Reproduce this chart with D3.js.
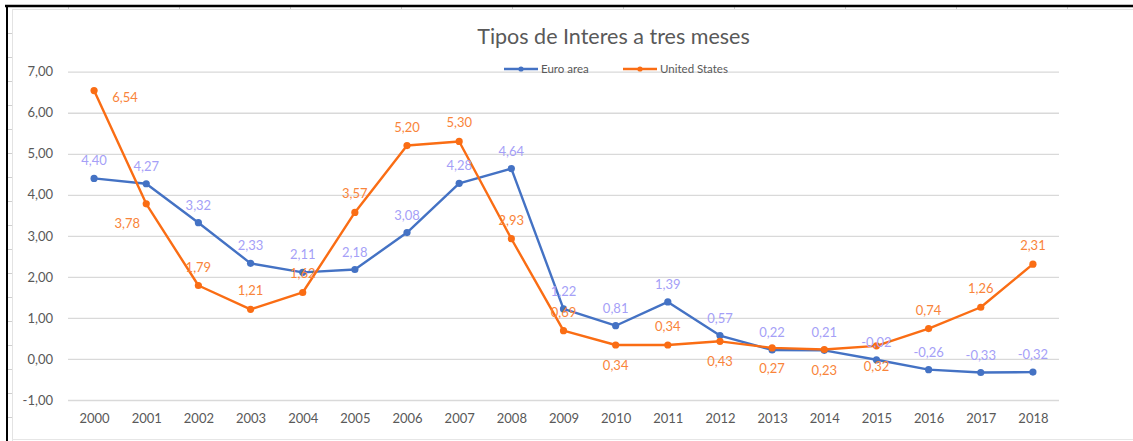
<!DOCTYPE html>
<html>
<head>
<meta charset="utf-8">
<script src="https://cdn.jsdelivr.net/npm/d3@7/dist/d3.min.js"></script>
<style>
  html, body { margin: 0; padding: 0; background: #fff; }
  svg { display: block; font-family: Lato, "Open Sans", sans-serif; }
</style>
</head>
<body>
<svg id="chart" width="1133" height="441"></svg>
<script>
const years = ["2000","2001","2002","2003","2004","2005","2006","2007","2008","2009",
               "2010","2011","2012","2013","2014","2015","2016","2017","2018"];
const euroArea = [4.40, 4.27, 3.32, 2.33, 2.11, 2.18, 3.08, 4.28, 4.64, 1.22,
                  0.81, 1.39, 0.57, 0.22, 0.21, -0.02, -0.26, -0.33, -0.32];
const unitedStates = [6.54, 3.78, 1.79, 1.21, 1.62, 3.57, 5.20, 5.30, 2.93, 0.69,
                      0.34, 0.34, 0.43, 0.27, 0.23, 0.32, 0.74, 1.26, 2.31];
const yTicks = [-1, 0, 1, 2, 3, 4, 5, 6, 7];
const seriesNames = ["Euro area", "United States"];
const titleText = "Tipos de Interes a tres meses";
// label placement for the US series (a = above, b = below, r = right, l = left-below)
const usLabelSide = ["r","l","a","a","a","a","a","a","a","a",
                     "b","a","b","b","b","b","a","a","a"];

const svg = d3.select("#chart");
const W = 1133, H = 441;
const fmt = v => d3.format(".2f")(v).replace(".", ",").replace("−", "-");

// outer frame (spreadsheet-like)
const frame = svg.append("g");
frame.append("line").attr("x1", 12).attr("x2", W).attr("y1", 9.5).attr("y2", 9.5)
  .attr("stroke", "#e3e3e3").attr("stroke-width", 1);
frame.append("line").attr("x1", 12.5).attr("x2", 12.5).attr("y1", 9).attr("y2", H)
  .attr("stroke", "#e3e3e3").attr("stroke-width", 1);
frame.append("line").attr("x1", 12).attr("x2", W).attr("y1", 439.5).attr("y2", 439.5)
  .attr("stroke", "#e6e6e6").attr("stroke-width", 1);
for (let k = 0; k < 10; k++) {
  const x = 68 + 111 * k + 0.5;
  frame.append("line").attr("x1", x).attr("x2", x).attr("y1", 6).attr("y2", 9)
    .attr("stroke", "#cfcfcf").attr("stroke-width", 1);
}
for (let k = 0; k < 17; k++) {
  const y = 33 + 24 * k + 0.5;
  frame.append("line").attr("x1", 8).attr("x2", 12).attr("y1", y).attr("y2", y)
    .attr("stroke", "#cfcfcf").attr("stroke-width", 1);
}
frame.append("line").attr("x1", 5).attr("x2", W).attr("y1", 6).attr("y2", 6)
  .attr("stroke", "#000").attr("stroke-width", 2.5);
frame.append("line").attr("x1", 7).attr("x2", 7).attr("y1", 5).attr("y2", H)
  .attr("stroke", "#000").attr("stroke-width", 2);

// scales
const x = d3.scalePoint().domain(years).range([68, 1059]).padding(0.5);
const y = d3.scaleLinear().domain([-1, 7]).range([400, 71.7]);

// gridlines + y axis
const yAxis = d3.axisLeft(y).tickValues(yTicks).tickSize(-(1059 - 68)).tickFormat(fmt).tickPadding(15);
const gy = svg.append("g").attr("transform", "translate(68,0)").call(yAxis);
gy.select(".domain").remove();
gy.selectAll(".tick line").attr("stroke", "#d9d9d9").attr("stroke-width", 1.3);
gy.selectAll(".tick text").attr("fill", "#595959").attr("font-size", 13)
  .attr("font-family", "Lato, sans-serif");

// x axis
const xAxis = d3.axisBottom(x).tickSize(0).tickPadding(0);
const gx = svg.append("g").attr("transform", "translate(0,414)").call(xAxis);
gx.select(".domain").remove();
gx.selectAll(".tick text").attr("fill", "#595959").attr("font-size", 13)
  .attr("font-family", "Lato, sans-serif").attr("dy", "0.71em");

// title
svg.append("text").attr("x", 613.5).attr("y", 43.5).attr("text-anchor", "middle")
  .attr("fill", "#595959").attr("font-size", 21.5).text(titleText);

// legend
const euroColor = "#4472c4", euroLabel = "#a59ff7";
const usColor = "#fa6d14", usLabel = "#f9843a";
const legend = [
  {name: seriesNames[0], color: euroColor, x0: 504},
  {name: seriesNames[1], color: usColor, x0: 623}
];
legend.forEach(d => {
  svg.append("line").attr("x1", d.x0).attr("x2", d.x0 + 34).attr("y1", 69).attr("y2", 69)
    .attr("stroke", d.color).attr("stroke-width", 2.5);
  svg.append("circle").attr("cx", d.x0 + 17).attr("cy", 69).attr("r", 2.6).attr("fill", d.color);
  svg.append("text").attr("x", d.x0 + 37).attr("y", 73).attr("fill", "#595959")
    .attr("font-size", 11.5).text(d.name);
});

// series
const line = d3.line().x((d, i) => x(years[i])).y(d => y(d));

function drawSeries(vals, color) {
  svg.append("path").datum(vals).attr("d", line).attr("fill", "none")
    .attr("stroke", color).attr("stroke-width", 2.4).attr("stroke-linejoin", "round");
  svg.append("g").selectAll("circle").data(vals).join("circle")
    .attr("cx", (d, i) => x(years[i])).attr("cy", d => y(d)).attr("r", 3.6).attr("fill", color);
}
drawSeries(euroArea, euroColor);
drawSeries(unitedStates, usColor);

// labels
svg.append("g").selectAll("text").data(euroArea).join("text")
  .attr("x", (d, i) => x(years[i])).attr("y", d => y(d) - 13)
  .attr("text-anchor", "middle").attr("fill", euroLabel).attr("font-size", 13)
  .text(d => fmt(d));

const offs = {a: [0, -14], b: [0, 25], r: [31, 11], l: [-19, 24]};
svg.append("g").selectAll("text").data(unitedStates).join("text")
  .attr("x", (d, i) => x(years[i]) + offs[usLabelSide[i]][0])
  .attr("y", (d, i) => y(d) + offs[usLabelSide[i]][1])
  .attr("text-anchor", "middle").attr("fill", usLabel).attr("font-size", 13)
  .text(d => fmt(d));
</script>
</body>
</html>
